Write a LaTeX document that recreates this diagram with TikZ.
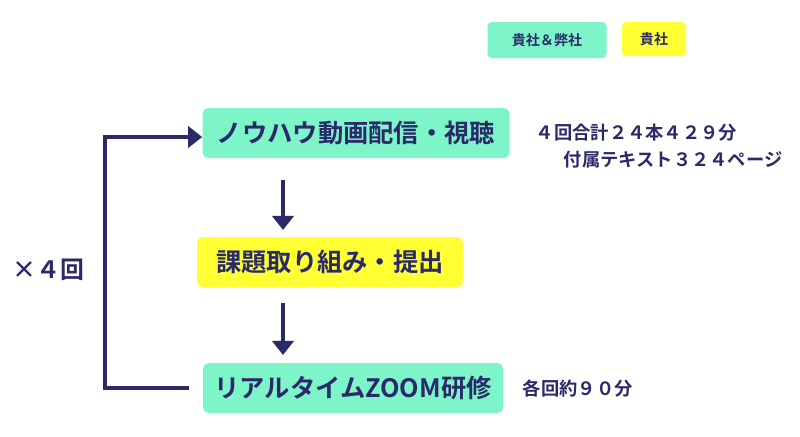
\documentclass[tikz,border=0pt]{standalone}
\usepackage{fontspec}
\setmainfont{Noto Sans CJK JP Bold}
\usetikzlibrary{positioning,arrows.meta}
\definecolor{mint}{HTML}{7DF5C8}
\definecolor{lemon}{HTML}{FFFF33}
\definecolor{navy}{HTML}{2A2A6A}
\begin{document}
\begin{tikzpicture}[x=0.025cm,y=-0.025cm,
  stepbox/.style={rounded corners=4pt,inner sep=0pt,text=navy,font=\fontsize{18}{20}\selectfont},
  legendbox/.style={rounded corners=3pt,inner sep=0pt,text=navy,font=\fontsize{10}{12}\selectfont},
  note/.style={text=navy,font=\fontsize{13}{15}\selectfont},
  flow/.style={navy,line width=3.5pt,-{Triangle[length=10pt,width=15pt]}}]
\useasboundingbox (0,0) rectangle (800,436);
% legend
\node[legendbox,fill=mint,minimum width=119*0.025cm,minimum height=36*0.025cm] (legboth) at (547,40) {貴社＆弊社};
\node[legendbox,fill=lemon,minimum width=64*0.025cm,minimum height=34*0.025cm] (legyou) at (654,39) {貴社};
% steps
\node[stepbox,fill=mint,minimum width=307*0.025cm,minimum height=50*0.025cm] (video) at (356,133) {ノウハウ動画配信・視聴};
\node[stepbox,fill=lemon,minimum width=266*0.025cm,minimum height=50*0.025cm] (task) at (330,262) {課題取り組み・提出};
\node[stepbox,fill=mint,minimum width=300*0.025cm,minimum height=50*0.025cm] (zoom) at (353,388) {リアルタイムZOOM研修};
% notes
\node[note,anchor=west] (sum) at (531,133) {４回合計２４本４２９分};
\node[note,anchor=west] (text) at (559,160) {付属テキスト３２４ページ};
\node[note,anchor=west] (each) at (518,389) {各回約９０分};
\node[text=navy,font=\fontsize{17}{19}\selectfont,anchor=west] (times) at (8,270) {×４回};
% arrows
\coordinate (a1) at (283,180);
\coordinate (a2) at (283,230);
\coordinate (b1) at (283,303);
\coordinate (b2) at (283,355);
\draw[flow] (a1) -- (a2);
\draw[flow] (b1) -- (b2);
\draw[flow] (zoom.west) ++(-14,0) coordinate (z0) -- (105,388) -- (105,137) -- (video.west|-0,137);
\end{tikzpicture}
\end{document}
